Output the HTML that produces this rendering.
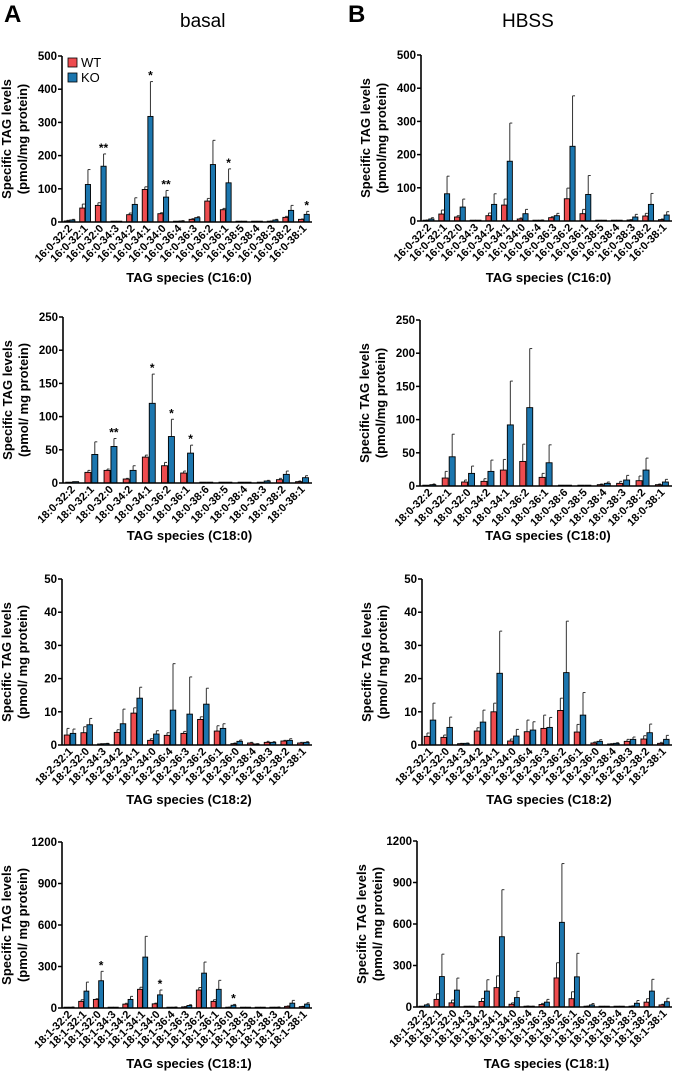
<!DOCTYPE html>
<html><head><meta charset="utf-8"><style>
html,body{margin:0;padding:0;background:#fff}
svg{display:block;font-family:"Liberation Sans",Arial,sans-serif}
</style></head><body>
<svg id="fig" width="673" height="1073" viewBox="0 0 673 1073">
<text x="4" y="22" font-size="24" font-weight="bold">A</text>
<text x="180" y="27" font-size="19">basal</text>
<text x="348" y="22" font-size="24" font-weight="bold">B</text>
<text x="502" y="27" font-size="19">HBSS</text>
</svg>
<script>
// ---- data ----
const catsC16 = ["16:0-32:2","16:0-32:1","16:0-32:0","16:0-34:3","16:0-34:2","16:0-34:1","16:0-34:0","16:0-36:4","16:0-36:3","16:0-36:2","16:0-36:1","16:0-38:5","16:0-38:4","16:0-38:3","16:0-38:2","16:0-38:1"];
const catsC180 = ["18:0-32:2","18:0-32:1","18:0-32:0","18:0-34:2","18:0-34:1","18:0-36:2","18:0-36:1","18:0-38:6","18:0-38:5","18:0-38:4","18:0-38:3","18:0-38:2","18:0-38:1"];
const catsC182 = ["18:2-32:1","18:2-32:0","18:2-34:3","18:2-34:2","18:2-34:1","18:2-34:0","18:2-36:4","18:2-36:3","18:2-36:2","18:2-36:1","18:2-36:0","18:2-38:4","18:2-38:3","18:2-38:2","18:2-38:1"];
const catsC181 = ["18:1-32:2","18:1-32:1","18:1-32:0","18:1-34:3","18:1-34:2","18:1-34:1","18:1-34:0","18:1-36:4","18:1-36:3","18:1-36:2","18:1-36:1","18:1-36:0","18:1-38:5","18:1-38:4","18:1-38:3","18:1-38:2","18:1-38:1"];

const a1WT = [3,42,50,1,22,98,25,2,8,63,37,0,0,2,14,8];
const a1WTerr = [2,12,8,0,5,8,3,0,2,8,4,0,0,1,3,1];
const a1KO = [6,113,168,1,53,318,75,3,13,173,118,0,1,6,35,23];
const a1KOerr = [2,45,37,0,20,105,20,1,3,73,42,0,0,2,15,9];
const a1Stars = ["","","**","","","*","**","","","","*","","","","","*"];

const a2WT = [1,16,19,6,39,26,15,0,0,0,1,5,2];
const a2WTerr = [0,3,2,1,3,5,3,0,0,0,0,2,1];
const a2KO = [2,43,55,19,120,70,45,0,0,1,3,13,8];
const a2KOerr = [0,19,12,7,44,26,12,0,0,0,1,5,3];
const a2Stars = ["","","**","","*","*","*","","","","","",""];

const a3WT = [3,3.7,0.3,3.8,9.6,1.4,2.9,3.5,7.7,4.2,0.4,0.6,0.8,1.2,0.6];
const a3WTerr = [2,1.8,0.1,0.8,1.6,0.5,0.8,0.6,0.8,1.6,0.2,0.2,0.3,0.2,0.2];
const a3KO = [3.5,6.1,0.4,6.4,14.1,3.3,10.5,9.3,12.3,5,1.1,0.3,0.8,1.4,0.8];
const a3KOerr = [1.3,1.9,0.1,4.4,3.3,1,14,11.2,4.8,1.4,0.4,0.1,0.2,0.5,0.2];

const a4WT = [3,48,62,0,28,135,30,2,8,130,48,5,0,0,3,12,10];
const a4WTerr = [1,12,5,0,6,15,5,0,2,18,12,1,0,0,1,3,2];
const a4KO = [5,122,197,0,62,368,95,5,18,252,135,20,0,0,5,35,28];
const a4KOerr = [2,65,68,0,22,150,35,2,6,80,65,6,0,0,2,20,10];
const a4Stars = ["","","*","","","","*","","","","","*","","","","",""];

const b1WT = [2,21,12,1,16,48,6,2,10,67,22,0,1,3,15,4];
const b1WTerr = [1,12,4,0,8,18,3,0,3,32,13,0,0,1,8,2];
const b1KO = [6,82,42,2,50,180,22,2,16,225,80,0,2,12,50,18];
const b1KOerr = [4,53,24,0,32,115,13,1,7,152,57,0,0,8,33,10];

const b2WT = [1,12,6,7,24,37,13,0,1,2,4,8,2];
const b2WTerr = [0,10,3,4,16,26,6,0,0,1,3,7,1];
const b2KO = [2,44,19,22,92,118,35,0,0,4,9,24,6];
const b2KOerr = [1,34,11,17,66,89,27,0,0,2,7,18,4];

const b3WT = [2.6,2.3,0.4,4.2,10,1.2,4,5,10.4,3.9,0.6,0.3,1.1,1.8,0.5];
const b3WTerr = [1,0.7,0.1,1,2.6,0.6,3.5,4,3.7,2.3,0.3,0.1,0.6,1,0.3];
const b3KO = [7.5,5.3,0.5,6.9,21.6,2.7,4.5,5.3,21.8,9,1.1,0.5,1.7,3.7,1.7];
const b3KOerr = [5.1,3.1,0.1,3.6,12.7,2,2.5,3,15.5,6.8,0.5,0.2,0.7,2.6,1.2];

const b4WT = [3,55,30,0,40,140,20,5,18,210,60,5,0,0,5,35,15];
const b4WTerr = [1,40,20,0,22,85,10,2,8,110,50,2,0,0,3,25,5];
const b4KO = [15,220,122,3,115,508,68,3,35,612,218,15,0,3,27,115,38];
const b4KOerr = [8,162,87,0,82,340,45,2,20,425,170,10,0,0,20,85,25];

const ticks500 = [0,100,200,300,400,500];
const ticks250 = [0,50,100,150,200,250];
const ticks50 = [0,10,20,30,40,50];
const ticks1200 = [0,300,600,900,1200];

const NS = "http://www.w3.org/2000/svg";
const svg = document.getElementById("fig");
function mk(tag, attrs, parent){
  const e = document.createElementNS(NS, tag);
  for (const k in attrs) e.setAttribute(k, attrs[k]);
  (parent||svg).appendChild(e);
  return e;
}

function panel(p){
  const g = mk("g", {});
  
  
  const ymax = p.ticks[p.ticks.length-1];
  const yS = v => p.y0 - (v/ymax)*(p.y0 - p.yTop);
  const n = p.cats.length;
  const gw = (p.right - p.left)/n;
  const bw = Math.min(6, gw*0.33);
  const xS = (i, s) => p.left + gw*i + gw*(s===0?0.3:0.66);
  p.ticks.forEach(t=>{
    const y = yS(t);
    const tl = mk("line",{x1:p.left-4,x2:p.left,y1:y,y2:y,stroke:"#000","stroke-width":1.5},g);
    
    
    const tx = mk("text",{x:p.left-5,y:y+4,"font-size":11.5,"font-weight":"bold","text-anchor":"end"},g);
    tx.textContent = t;
    
    
  });
  const series = [[p.wt,p.wtErr,"#ee4c4f","wt"],[p.ko,p.koErr,"#1c76ae","ko"]];
  series.forEach((s,si)=>{
    s[0].forEach((v,i)=>{
      const cx = xS(i,si);
      const top = yS(v + s[1][i]);
      const yv = yS(v);
      if (s[1][i] > 0) {
        const el = mk("line",{x1:cx,x2:cx,y1:top,y2:yv,stroke:"#333","stroke-width":1},g);
        
        
        const cap = mk("line",{x1:cx,x2:cx+2.5,y1:top,y2:top,stroke:"#333","stroke-width":1},g);
        
        
      }
      const h = Math.max(0.8, p.y0 - yv);
      const r = mk("rect",{x:cx-bw/2,y:p.y0-h,width:bw,height:h,fill:s[2],stroke:"#000","stroke-width":0.9},g);
      
      
    });
  });
  if (p.stars) p.stars.forEach((st,i)=>{
    if(!st) return;
    const t = mk("text",{x:xS(i,1),y:yS(p.ko[i]+p.koErr[i])-2,"font-size":12,"font-weight":"bold","text-anchor":"middle"},g);
    t.textContent = st;
    
    
  });
  const ya = mk("line",{x1:p.left,x2:p.left,y1:p.yTop,y2:p.y0,stroke:"#000","stroke-width":1.6},g);
  
  
  const xa = mk("line",{x1:p.left,x2:p.right,y1:p.y0,y2:p.y0,stroke:"#000","stroke-width":1.6},g);
  
  
  p.cats.forEach((c,i)=>{
    const x = p.left + gw*(i+0.5) + 3, y = p.y0 + 7;
    const t = mk("text",{x:x,y:y,"font-size":11,"font-weight":"bold","text-anchor":"end",transform:`rotate(-45 ${x} ${y})`},g);
    t.textContent = c;
    
    
  });
  const cy = (p.y0 + p.yTop)/2;
  [["Specific TAG levels",-51],[p.unit,-35]].forEach((l,k)=>{
    const x = p.left + l[1];
    const t = mk("text",{x:x,y:cy,"font-size":13,"font-weight":"bold","text-anchor":"middle",transform:`rotate(-90 ${x} ${cy})`},g);
    t.textContent = l[0];
    
    
  });
  const xt = mk("text",{x:(p.left+p.right)/2+2,y:p.xTitleY,"font-size":13,"font-weight":"bold","text-anchor":"middle"},g);
  xt.textContent = p.xTitle;
  
  
}

panel({name:"chart-a-c16",cats:catsC16,wt:a1WT,wtErr:a1WTerr,ko:a1KO,koErr:a1KOerr,stars:a1Stars,ticks:ticks500,left:62,right:312,y0:222,yTop:56,unit:"(pmol/mg protein)",xTitle:"TAG species (C16:0)",xTitleY:282});
panel({name:"chart-a-c180",cats:catsC180,wt:a2WT,wtErr:a2WTerr,ko:a2KO,koErr:a2KOerr,stars:a2Stars,ticks:ticks250,left:63,right:312,y0:483,yTop:317,unit:"(pmol/ mg protein)",xTitle:"TAG species (C18:0)",xTitleY:540});
panel({name:"chart-a-c182",cats:catsC182,wt:a3WT,wtErr:a3WTerr,ko:a3KO,koErr:a3KOerr,stars:null,ticks:ticks50,left:62,right:312,y0:745,yTop:579,unit:"(pmol/ mg protein)",xTitle:"TAG species (C18:2)",xTitleY:804});
panel({name:"chart-a-c181",cats:catsC181,wt:a4WT,wtErr:a4WTerr,ko:a4KO,koErr:a4KOerr,stars:a4Stars,ticks:ticks1200,left:62,right:312,y0:1008,yTop:842,unit:"(pmol/ mg protein)",xTitle:"TAG species (C18:1)",xTitleY:1068});
panel({name:"chart-b-c16",cats:catsC16,wt:b1WT,wtErr:b1WTerr,ko:b1KO,koErr:b1KOerr,stars:null,ticks:ticks500,left:421,right:672,y0:221,yTop:55,unit:"(pmol/mg protein)",xTitle:"TAG species (C16:0)",xTitleY:282});
panel({name:"chart-b-c180",cats:catsC180,wt:b2WT,wtErr:b2WTerr,ko:b2KO,koErr:b2KOerr,stars:null,ticks:ticks250,left:420,right:672,y0:486,yTop:320,unit:"(pmol/mg protein)",xTitle:"TAG species (C18:0)",xTitleY:540});
panel({name:"chart-b-c182",cats:catsC182,wt:b3WT,wtErr:b3WTerr,ko:b3KO,koErr:b3KOerr,stars:null,ticks:ticks50,left:422,right:672,y0:745,yTop:579,unit:"(pmol/ mg protein)",xTitle:"TAG species (C18:2)",xTitleY:804});
panel({name:"chart-b-c181",cats:catsC181,wt:b4WT,wtErr:b4WTerr,ko:b4KO,koErr:b4KOerr,stars:null,ticks:ticks1200,left:417,right:672,y0:1007,yTop:841,unit:"(pmol/ mg protein)",xTitle:"TAG species (C18:1)",xTitleY:1068});

const lg = mk("g",{});


[["WT","#ee4c4f",58],["KO","#1c76ae",73]].forEach(l=>{
  const r = mk("rect",{x:68,y:l[2],width:9,height:9,fill:l[1],stroke:"#000","stroke-width":0.8},lg);
  
  
  const t = mk("text",{x:81,y:l[2]+9,"font-size":13},lg);
  t.textContent = l[0];
  
  
});
</script>
</body></html>
